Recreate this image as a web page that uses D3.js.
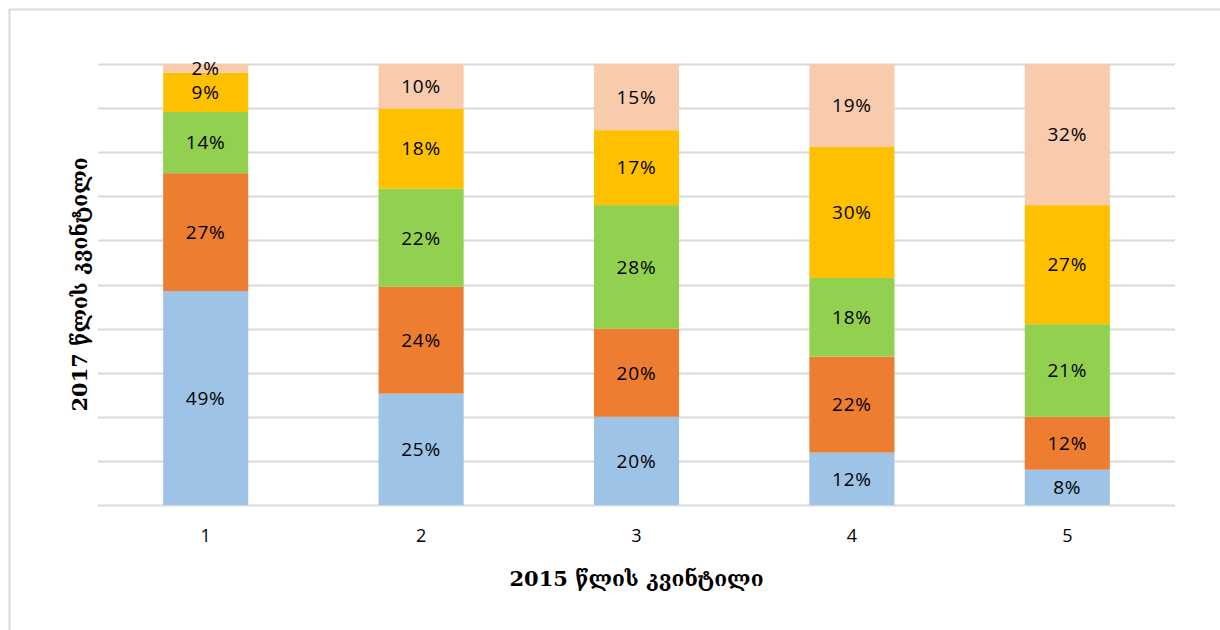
<!DOCTYPE html>
<html lang="ka">
<head>
<meta charset="utf-8">
<title>Quintile transition</title>
<style>
  * { margin: 0; padding: 0; box-sizing: border-box; }
  body { background: #fff; width: 1220px; height: 630px; overflow: hidden; }
  svg { display: block; }
</style>
</head>
<body>
<div id="chart"></div>
<script src="https://d3js.org/d3.v7.min.js"></script>
<script>
// 2015 quintile (x) -> share in each 2017 quintile (stack, bottom to top)
var categories = ["1", "2", "3", "4", "5"];
var seriesNames = ["q1", "q2", "q3", "q4", "q5"];
var q1 = [49, 25, 20, 12, 8];
var q2 = [27, 24, 20, 22, 12];
var q3 = [14, 22, 28, 18, 21];
var q4 = [9, 18, 17, 30, 27];
var q5 = [2, 10, 15, 19, 32];
var colors = ["#9dc3e6", "#ed7d31", "#92d050", "#ffc000", "#f8cbad"];
var yTicks = [0, 10, 20, 30, 40, 50, 60, 70, 80, 90, 100];
var xTitle = "2015 წლის კვინტილი";
var yTitle = "2017 წლის კვინტილი";

var width = 1220, height = 630;
var margin = { top: 64, right: 45, bottom: 125, left: 98 };

var rows = categories.map(function (c, i) {
    return { cat: c, q1: q1[i], q2: q2[i], q3: q3[i], q4: q4[i], q5: q5[i] };
});

var stack = d3.stack().keys(seriesNames).offset(d3.stackOffsetExpand);
var layers = stack(rows);

var svg = d3.select("#chart").append("svg")
    .attr("width", width)
    .attr("height", height);

// outer frame
svg.append("rect")
    .attr("x", 9.5).attr("y", 9.5)
    .attr("width", 1230).attr("height", 640)
    .attr("fill", "none")
    .attr("stroke", "#d9d9d9")
    .attr("stroke-width", 2);

var x = d3.scaleBand()
    .domain(categories)
    .range([margin.left, width - margin.right])
    .paddingInner(0.605)
    .paddingOuter(0.3025);

var y = d3.scaleLinear()
    .domain([0, 1])
    .range([height - margin.bottom, margin.top]);

// gridlines
svg.append("g")
    .selectAll("line")
    .data(yTicks)
    .enter()
    .append("line")
    .attr("x1", margin.left)
    .attr("x2", width - margin.right)
    .attr("y1", function (d) { return Math.round(y(d / 100)) + 0.5; })
    .attr("y2", function (d) { return Math.round(y(d / 100)) + 0.5; })
    .style("stroke", "#d9d9d9")
    .style("stroke-width", 2);

var groups = svg.append("g")
    .selectAll("g")
    .data(layers)
    .enter()
    .append("g")
    .style("fill", function (d, i) { return colors[i]; });

groups.selectAll("rect")
    .data(function (d) { return d; })
    .enter()
    .append("rect")
    .attr("x", function (d) { return x(d.data.cat); })
    .attr("width", x.bandwidth())
    .attr("y", function (d) { return y(d[1]); })
    .attr("height", function (d) { return y(d[0]) - y(d[1]); });

// value labels
groups.selectAll("text")
    .data(function (layer) {
        return layer.map(function (d) { return { d: d, key: layer.key }; });
    })
    .enter()
    .append("text")
    .attr("x", function (o) { return x(o.d.data.cat) + x.bandwidth() / 2; })
    .attr("y", function (o) { return (y(o.d[0]) + y(o.d[1])) / 2; })
    .attr("dy", "0.36em")
    .attr("text-anchor", "middle")
    .style("fill", "#000")
    .style("font-family", "'Open Sans', 'Liberation Sans', sans-serif")
    .style("font-size", "19px")
    .style("letter-spacing", "0.8px")
    .text(function (o) { return o.d.data[o.key] + "%"; });

// x axis labels
var xAxis = svg.append("g")
    .attr("transform", "translate(0," + (height - margin.bottom) + ")")
    .call(d3.axisBottom(x).tickSize(0).tickPadding(24));
xAxis.select(".domain").remove();
xAxis.selectAll("text")
    .style("font-family", "'Open Sans', 'Liberation Sans', sans-serif")
    .style("font-size", "18px")
    .style("fill", "#000");

// axis titles
svg.append("text")
    .attr("x", (margin.left + width - margin.right) / 2)
    .attr("y", 586)
    .attr("text-anchor", "middle")
    .style("font-family", "'DejaVu Serif', serif")
    .style("font-weight", "bold")
    .style("font-size", "21px")
    .style("fill", "#000")
    .text(xTitle);

svg.append("text")
    .attr("transform", "translate(87," + ((margin.top + height - margin.bottom) / 2) + ") rotate(-90)")
    .attr("text-anchor", "middle")
    .style("font-family", "'DejaVu Serif', serif")
    .style("font-weight", "bold")
    .style("font-size", "21px")
    .style("fill", "#000")
    .text(yTitle);
</script>
</body>
</html>
